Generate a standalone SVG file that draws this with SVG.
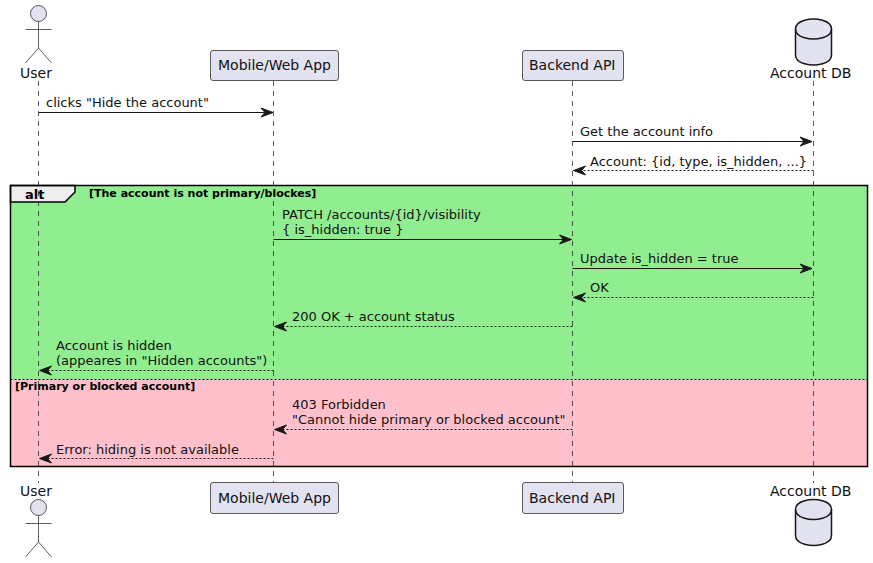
<svg xmlns="http://www.w3.org/2000/svg" width="873" height="563" viewBox="0 0 873 563">
<style>
text{font-family:"DejaVu Sans",sans-serif;fill:#111}
.n{font-size:14px}
.m{font-size:13px}
.b{font-size:11px;font-weight:bold;fill:#000}
.life{stroke:#181818;stroke-width:.7;stroke-dasharray:5,5;fill:none}
.box{fill:#E2E2F0;stroke:#181818;stroke-width:.7}
.act{fill:none;stroke:#181818;stroke-width:.7}
.db{fill:#E2E2F0;stroke:#181818;stroke-width:1.5}
.msg{stroke:#181818;stroke-width:1;fill:none}
.ret{stroke:#181818;stroke-width:1;fill:none;stroke-dasharray:2,2}
.ah{fill:#181818;stroke:#181818;stroke-width:1}
</style>
<defs>
<path id="ar" class="ah" d="M0,0 L-12,-4.5 L-8,0 L-12,4.5 Z"/>
<path id="al" class="ah" d="M0,0 L12,-4.5 L8,0 L12,4.5 Z"/>
</defs>
<g id="frame">
<rect x="10.5" y="185.5" width="857" height="194" fill="#90EE90"/>
<rect x="10.5" y="379.5" width="857" height="87" fill="#FFC0CB"/>
<path d="M10.5,185.5 H75 V192 L65,202 H10.5 Z" fill="#EEEEEE" stroke="#000" stroke-width="1.5"/>
<rect x="10.5" y="185.5" width="857" height="281" fill="none" stroke="#000" stroke-width="1.5"/>
<line x1="10.5" y1="379.5" x2="867.5" y2="379.5" stroke="#000" stroke-width="1" stroke-dasharray="2,2"/>
<text x="25" y="199" font-size="13" font-weight="bold" style="fill:#000">alt</text>
<text class="b" x="89" y="197">[The account is not primary/blockes]</text>
<text class="b" x="15" y="390">[Primary or blocked account]</text>
</g>
<g id="lifelines">
<line class="life" x1="38.5" y1="81" x2="38.5" y2="483"/>
<line class="life" x1="273.5" y1="81" x2="273.5" y2="483"/>
<line class="life" x1="572.5" y1="81" x2="572.5" y2="483"/>
<line class="life" x1="813.5" y1="81" x2="813.5" y2="483"/>
</g>
<g id="connectors">
<line class="msg" x1="38.5" y1="112.5" x2="272" y2="112.5"/><use href="#ar" x="273" y="112.5"/>
<line class="msg" x1="572.5" y1="141.5" x2="811" y2="141.5"/><use href="#ar" x="812" y="141.5"/>
<line class="ret" x1="813.5" y1="170.5" x2="575" y2="170.5"/><use href="#al" x="573.5" y="170.5"/>
<line class="msg" x1="273.5" y1="239.5" x2="570" y2="239.5"/><use href="#ar" x="571.5" y="239.5"/>
<line class="msg" x1="572.5" y1="268.5" x2="811" y2="268.5"/><use href="#ar" x="812" y="268.5"/>
<line class="ret" x1="813.5" y1="297.5" x2="575" y2="297.5"/><use href="#al" x="573.5" y="297.5"/>
<line class="ret" x1="572.5" y1="326.5" x2="276" y2="326.5"/><use href="#al" x="274.5" y="326.5"/>
<line class="ret" x1="273.5" y1="370.5" x2="41" y2="370.5"/><use href="#al" x="39.5" y="370.5"/>
<line class="ret" x1="572.5" y1="429.5" x2="276" y2="429.5"/><use href="#al" x="274.5" y="429.5"/>
<line class="ret" x1="273.5" y1="458.5" x2="41" y2="458.5"/><use href="#al" x="39.5" y="458.5"/>
</g>
<g id="labels">
<text class="m" x="46" y="107">clicks "Hide the account"</text>
<text class="m" x="580" y="136">Get the account info</text>
<text class="m" x="590" y="166">Account: {id, type, is_hidden, ...}</text>
<text class="m" x="282" y="219">PATCH /accounts/{id}/visibility</text>
<text class="m" x="282" y="234">{ is_hidden: true }</text>
<text class="m" x="580" y="263">Update is_hidden = true</text>
<text class="m" x="590" y="292">OK</text>
<text class="m" x="292" y="321">200 OK + account status</text>
<text class="m" x="56" y="350">Account is hidden</text>
<text class="m" x="56" y="365">(appeares in "Hidden accounts")</text>
<text class="m" x="292" y="409">403 Forbidden</text>
<text class="m" x="292" y="424">"Cannot hide primary or blocked account"</text>
<text class="m" x="56" y="454">Error: hiding is not available</text>
</g>
<g id="user-top"><circle class="box" cx="38.5" cy="13.5" r="8"/><path class="act" d="M38.5,21.5 V48 M25.5,29.5 H51.5 M38.5,48 L25.5,63 M38.5,48 L51.5,63"/><text class="n" x="20" y="78">User</text></g>
<g id="app-top"><rect class="box" x="210.5" y="50.5" width="128" height="30" rx="2.5"/><text class="n" x="218" y="70">Mobile/Web App</text></g>
<g id="api-top"><rect class="box" x="522.5" y="50.5" width="101" height="30" rx="2.5"/><text class="n" x="529" y="70">Backend API</text></g>
<g id="db-top"><path class="db" d="M795.5,29 C795.5,19 813.5,19 813.5,19 C813.5,19 831.5,19 831.5,29 V55 C831.5,65 813.5,65 813.5,65 C813.5,65 795.5,65 795.5,55 Z"/><path class="db" style="fill:none" d="M795.5,29 C795.5,39 813.5,39 813.5,39 C813.5,39 831.5,39 831.5,29"/><text class="n" x="770" y="78">Account DB</text></g>
<g id="user-bottom"><text class="n" x="20" y="496">User</text><circle class="box" cx="38.5" cy="507.5" r="8"/><path class="act" d="M38.5,515.5 V542 M25.5,523.5 H51.5 M38.5,542 L25.5,557 M38.5,542 L51.5,557"/></g>
<g id="app-bottom"><rect class="box" x="210.5" y="482.5" width="128" height="31" rx="2.5"/><text class="n" x="218" y="503">Mobile/Web App</text></g>
<g id="api-bottom"><rect class="box" x="522.5" y="482.5" width="101" height="31" rx="2.5"/><text class="n" x="529" y="503">Backend API</text></g>
<g id="db-bottom"><text class="n" x="770" y="496">Account DB</text><path class="db" d="M795.5,509.5 C795.5,499.5 813.5,499.5 813.5,499.5 C813.5,499.5 831.5,499.5 831.5,509.5 V535.5 C831.5,545.5 813.5,545.5 813.5,545.5 C813.5,545.5 795.5,545.5 795.5,535.5 Z"/><path class="db" style="fill:none" d="M795.5,509.5 C795.5,519.5 813.5,519.5 813.5,519.5 C813.5,519.5 831.5,519.5 831.5,509.5"/></g>
</svg>
